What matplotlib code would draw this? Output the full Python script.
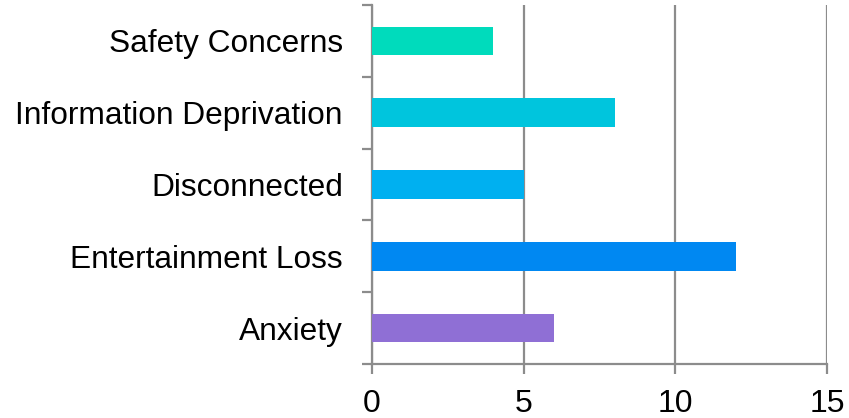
import matplotlib.pyplot as plt

plt.rcParams['font.family'] = ['Liberation Sans', 'DejaVu Sans']

# Categories listed bottom to top
categories = ["Anxiety", "Entertainment Loss", "Disconnected",
              "Information Deprivation", "Safety Concerns"]
values = [6, 12, 5, 8, 4]
colors = ["#8f6fd5", "#0088f2", "#00b0f0", "#00c5dd", "#00dbbc"]
x_ticks = [0, 5, 10, 15]

grey = "#8c8c8c"

fig = plt.figure(figsize=(8.49, 4.18), dpi=100)
ax = fig.add_axes([372 / 849, 1 - 364 / 418, 455 / 849, 359 / 418])

pos = list(range(len(categories)))
ax.barh(pos, values, height=0.4, color=colors, zorder=3)

ax.set_xlim(0, 15)
ax.set_ylim(-0.5, len(categories) - 0.5)
ax.set_xticks(x_ticks)
ax.set_xticklabels([str(t) for t in x_ticks], fontsize=23)

# category labels sit between the boundary ticks
ax.set_yticks(pos)
ax.set_yticklabels(categories, fontsize=22.8)
ax.tick_params(axis='y', length=0, pad=21)
ax.set_yticks([p - 0.5 for p in pos] + [len(categories) - 0.5], minor=True)
ax.tick_params(axis='y', which='minor', length=7, width=1.6, color=grey)
ax.tick_params(axis='x', length=7, width=1.6, color=grey, pad=11)

ax.grid(axis='x', color=grey, linewidth=1.6, zorder=0)
for side in ['top', 'right']:
    ax.spines[side].set_visible(False)
for side in ['left', 'bottom']:
    ax.spines[side].set_color(grey)
    ax.spines[side].set_linewidth(1.6)

fig.savefig("out.png", dpi=100)
